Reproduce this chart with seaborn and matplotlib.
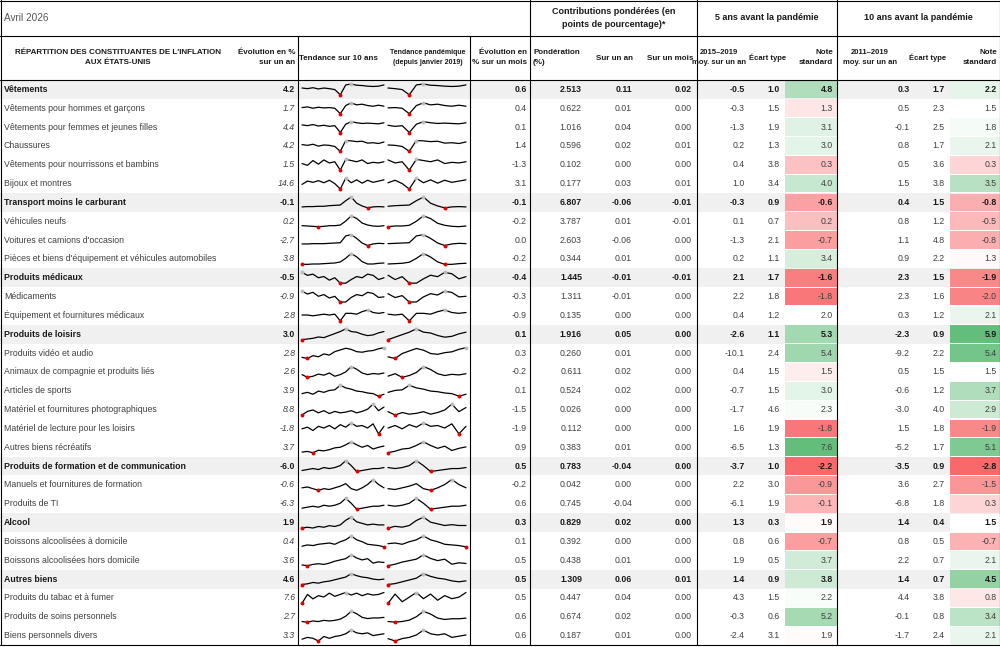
import matplotlib
matplotlib.use("Agg")
import matplotlib.pyplot as plt
import seaborn as sns
import numpy as np
import pandas as pd
from matplotlib.colors import LinearSegmentedColormap, TwoSlopeNorm

sns.set_theme(style="white")
plt.rcParams['font.family'] = ['Liberation Sans', 'DejaVu Sans']

labels = ["Vêtements", "Vêtements pour hommes et garçons", "Vêtements pour femmes et jeunes filles",
 "Chaussures", "Vêtements pour nourrissons et bambins", "Bijoux et montres",
 "Transport moins le carburant", "Véhicules neufs", "Voitures et camions d'occasion",
 "Pièces et biens d'équipement et véhicules automobiles", "Produits médicaux", "Médicaments",
 "Équipement et fournitures médicaux", "Produits de loisirs", "Produits vidéo et audio",
 "Animaux de compagnie et produits liés", "Articles de sports", "Matériel et fournitures photographiques",
 "Matériel de lecture pour les loisirs", "Autres biens récréatifs",
 "Produits de formation et de communication", "Manuels et fournitures de formation", "Produits de TI",
 "Alcool", "Boissons alcoolisées à domicile", "Boissons alcoolisées hors domicile",
 "Autres biens", "Produits du tabac et à fumer", "Produits de soins personnels", "Biens personnels divers"]
bold = [0, 6, 10, 13, 20, 23, 26]
yoy = [4.2,1.7,4.4,4.2,1.5,14.6,-0.1,0.2,-2.7,3.8,-0.5,-0.9,2.8,3.0,2.8,2.6,3.9,8.8,-1.8,3.7,-6.0,-0.6,-6.3,1.9,0.4,3.6,4.6,7.6,2.7,3.3]
mom = [0.6,0.4,0.1,1.4,-1.3,3.1,-0.1,-0.2,0.0,-0.2,-0.4,-0.3,-0.9,0.1,0.3,-0.2,0.1,-1.5,-1.9,0.9,0.5,-0.2,0.6,0.3,0.1,0.5,0.5,0.5,0.6,0.6]
weight = [2.513,0.622,1.016,0.596,0.102,0.177,6.807,3.787,2.603,0.344,1.445,1.311,0.135,1.916,0.260,0.611,0.524,0.026,0.112,0.383,0.783,0.042,0.745,0.829,0.392,0.438,1.309,0.447,0.674,0.187]
c_yoy = [0.11,0.01,0.04,0.02,0.00,0.03,-0.06,0.01,-0.06,0.01,-0.01,-0.01,0.00,0.05,0.01,0.02,0.02,0.00,0.00,0.01,-0.04,0.00,-0.04,0.02,0.00,0.01,0.06,0.04,0.02,0.01]
c_mom = [0.02,0.00,0.00,0.01,0.00,0.01,-0.01,-0.01,0.00,0.00,-0.01,0.00,0.00,0.00,0.00,0.00,0.00,0.00,0.00,0.00,0.00,0.00,0.00,0.00,0.00,0.00,0.01,0.00,0.00,0.00]
avg5 = [-0.5,-0.3,-1.3,0.2,0.4,1.0,-0.3,0.1,-1.3,0.2,2.1,2.2,0.4,-2.6,-10.1,0.4,-0.7,-1.7,1.6,-6.5,-3.7,2.2,-6.1,1.3,0.8,1.9,1.4,4.3,-0.3,-2.4]
sd5 = [1.0,1.5,1.9,1.3,3.8,3.4,0.9,0.7,2.1,1.1,1.7,1.8,1.2,1.1,2.4,1.5,1.5,4.6,1.9,1.3,1.0,3.0,1.9,0.3,0.6,0.5,0.9,1.5,0.6,3.1]
z5 = [4.8,1.3,3.1,3.0,0.3,4.0,-0.6,0.2,-0.7,3.4,-1.6,-1.8,2.0,5.3,5.4,1.5,3.0,2.3,-1.8,7.6,-2.2,-0.9,-0.1,1.9,-0.7,3.7,3.8,2.2,5.2,1.9]
avg10 = [0.3,0.5,-0.1,0.8,0.5,1.5,0.4,0.8,1.1,0.9,2.3,2.3,0.3,-2.3,-9.2,0.5,-0.6,-3.0,1.5,-5.2,-3.5,3.6,-6.8,1.4,0.8,2.2,1.4,4.4,-0.1,-1.7]
sd10 = [1.7,2.3,2.5,1.7,3.6,3.8,1.5,1.2,4.8,2.2,1.5,1.6,1.2,0.9,2.2,1.5,1.2,4.0,1.8,1.7,0.9,2.7,1.8,0.4,0.5,0.7,0.7,3.8,0.8,2.4]
z10 = [2.2,1.5,1.8,2.1,0.3,3.5,-0.8,-0.5,-0.8,1.3,-1.9,-2.0,2.1,5.9,5.4,1.5,3.7,2.9,-1.9,5.1,-2.8,-1.5,0.3,1.5,-0.7,2.1,4.5,0.8,3.4,2.1]

# rough 10-year trend shapes read from the sparklines (2016 -> 2026)
trend = [
 [0.2,0.0,0.3,-0.1,0.2,0.0,-0.3,-2.0,1.2,1.5,1.1,1.0,0.8,0.7,0.8,1.2],
 [0.2,0.4,0.0,0.3,0.1,0.2,0.0,-1.6,0.8,1.6,1.0,1.2,0.8,0.6,0.9,0.6],
 [0.4,0.2,0.5,0.1,0.3,0.0,0.2,-1.7,0.6,1.3,1.0,0.8,0.9,0.8,0.7,1.0],
 [0.2,0.0,0.3,-0.2,0.1,0.0,-0.3,-1.6,1.3,1.2,1.0,1.1,0.6,0.7,0.5,0.9],
 [0.3,0.0,0.8,0.2,0.9,0.4,0.6,-0.8,1.0,0.8,0.6,0.9,0.3,0.5,0.4,0.6],
 [-0.2,0.6,0.3,0.7,0.2,0.8,0.0,-1.3,1.3,0.2,0.9,0.1,0.8,0.3,0.6,0.9],
 [0.0,0.1,0.1,0.2,0.2,0.4,0.5,0.6,2.0,3.2,1.2,0.3,-0.3,0.0,0.1,0.0],
 [0.0,-0.1,-0.2,-0.3,-0.2,0.0,0.0,0.2,1.4,3.0,2.2,0.8,0.2,-0.1,-0.2,0.0],
 [0.0,0.0,0.1,0.1,0.1,0.2,0.3,0.4,2.6,3.0,1.8,0.3,-0.5,0.0,0.2,0.1],
 [-0.2,-0.2,-0.1,-0.1,0.0,0.1,0.2,0.5,1.6,3.0,2.0,0.6,-0.1,-0.1,0.1,0.2],
 [1.5,1.0,1.2,0.6,0.8,0.2,0.6,-0.3,-0.3,0.3,0.8,0.6,1.2,1.0,0.3,0.6],
 [1.5,1.0,1.3,0.6,0.9,0.3,0.6,-0.4,-0.4,0.4,0.9,0.7,1.3,1.1,0.4,0.5],
 [0.3,0.3,0.2,0.3,0.4,0.3,0.4,-0.4,0.5,0.5,0.4,0.7,0.9,0.6,0.5,0.6],
 [-0.6,-0.5,-0.4,-0.2,-0.3,0.0,0.3,0.6,1.0,0.6,0.5,0.2,0.0,0.1,0.4,0.6],
 [-0.6,-0.8,-0.3,-0.5,0.0,-0.2,0.4,0.7,1.0,0.8,0.4,0.3,0.5,0.6,0.9,1.1],
 [0.3,-0.2,0.0,0.4,0.2,0.6,0.0,0.3,0.8,1.8,1.3,0.6,0.3,0.5,0.4,0.6],
 [0.2,0.4,0.1,0.6,0.4,0.7,0.8,1.5,1.1,0.9,0.6,0.5,0.3,0.2,-0.2,0.1],
 [-0.3,0.2,0.4,0.0,0.3,-0.1,0.2,0.0,0.1,0.3,0.0,0.2,0.5,1.2,0.3,0.8],
 [0.2,0.4,0.0,0.5,0.3,0.6,0.2,0.7,0.4,0.9,0.5,0.6,0.3,0.8,-0.4,0.5],
 [-0.2,-0.1,-0.3,0.1,0.0,0.2,0.5,0.6,1.0,1.5,1.0,0.6,0.9,0.3,0.6,0.8],
 [0.3,0.4,0.5,0.4,0.6,0.5,0.6,0.8,1.3,0.8,0.2,0.3,0.4,0.5,0.5,0.6],
 [0.4,0.5,0.3,0.1,0.3,0.2,0.4,0.6,0.9,0.3,0.1,0.4,0.8,1.4,0.8,0.4],
 [0.3,0.4,0.5,0.4,0.6,0.5,0.6,0.8,1.3,0.8,0.2,0.3,0.4,0.5,0.5,0.6],
 [0.2,0.3,0.2,0.4,0.3,0.5,0.4,0.6,1.2,1.6,1.0,0.8,0.6,0.7,0.6,0.6],
 [0.2,0.4,0.3,0.5,0.6,0.7,0.5,0.9,1.2,1.8,1.2,0.9,0.5,0.4,0.3,0.1],
 [0.2,0.1,0.3,0.4,0.3,0.5,0.8,1.0,1.2,1.8,1.3,1.0,1.2,0.5,0.7,0.6],
 [0.2,0.3,0.5,0.4,0.6,0.7,0.9,1.1,1.3,1.8,1.5,1.3,1.2,1.0,0.9,1.0],
 [0.0,1.4,0.7,1.2,1.0,1.6,1.1,1.4,1.7,1.3,1.6,1.2,1.5,1.3,1.4,1.7],
 [0.1,0.0,0.2,0.1,0.3,0.2,0.3,0.5,1.0,1.8,1.4,0.8,0.6,0.7,0.7,0.8],
 [0.2,0.4,0.3,0.0,0.5,0.3,0.5,0.6,0.8,1.2,0.9,0.8,0.9,0.6,0.7,0.8],
]

W, H = 1000, 647
fig = plt.figure(figsize=(10, 6.47), dpi=100)
ax = fig.add_axes([0, 0, 1, 1])

top = 80.0
rh = (645 - top) / len(labels)
fs = 6.3
dark = "#1a1a1a"

for i in bold:
    ax.add_patch(plt.Rectangle((0, top + i*rh), W, rh, color="#f0f0f0", zorder=0, lw=0))

cmap = LinearSegmentedColormap.from_list("rg", ["#f8696b", "#ffffff", "#63be7b"])
for vals, x0, x1, ctr in [(z5, 785, 837, 2.0), (z10, 950, 1000, 1.5)]:
    norm = TwoSlopeNorm(vcenter=ctr, vmin=min(vals), vmax=max(vals))
    for i, v in enumerate(vals):
        ax.add_patch(plt.Rectangle((x0, top + i*rh + 0.5), x1 - x0, rh - 1,
                                   color=cmap(norm(v)), lw=0, zorder=1))

rows = []
for c, (x0, x1, start) in enumerate([(302, 384, 0), (388, 466, 4)]):
    for i, t in enumerate(trend):
        seg = np.array(t[start:], dtype=float)
        xs = np.linspace(x0, x1, len(seg))
        lo, hi = seg.min(), seg.max()
        ys = top + i*rh + rh - 4 - (seg - lo) / (hi - lo + 1e-9) * (rh - 8)
        for xx, yy in zip(xs, ys):
            rows.append(dict(x=xx, y=yy, unit=f"{c}-{i}"))
        ax.scatter([xs[seg.argmin()]], [ys[seg.argmin()]], s=8, color="#e00000", zorder=4, lw=0)
        ax.scatter([xs[seg.argmax()]], [ys[seg.argmax()]], s=8, color="#bbbbbb", zorder=4, lw=0)
df = pd.DataFrame(rows)
sns.lineplot(data=df, x="x", y="y", units="unit", estimator=None, color="black",
             lw=0.9, ax=ax, legend=False, sort=False)
ax.set_xlim(0, W); ax.set_ylim(H, 0); ax.axis('off')

def f(v, d=1):
    return f"{v:.{d}f}"

for i in range(len(labels)):
    yc = top + i*rh + rh/2
    b = i in bold
    w = "bold" if b else "normal"
    col = dark if b else "#404040"
    ax.text(4, yc, labels[i], fontsize=fs, va="center", ha="left", weight=w, color=col)
    cells = [(295, f(yoy[i])), (527, f(mom[i])), (582, f(weight[i], 3)), (632, f(c_yoy[i], 2)),
             (692, f(c_mom[i], 2)), (745, f(avg5[i])), (780, f(sd5[i])), (833, f(z5[i])),
             (910, f(avg10[i])), (945, f(sd10[i])), (997, f(z10[i]))]
    for k, (x, s) in enumerate(cells):
        ax.text(x, yc, s, fontsize=fs, va="center", ha="right", weight=w,
                color=col, style="italic" if (k == 0 and not b) else "normal")

hf = 5.8
ax.text(4, 18, "Avril 2026", fontsize=7.2, va="center", color="#555555")
hb = dict(fontsize=hf, weight="bold", color=dark, va="center")
ax.text(614, 18, "Contributions pondérées (en\npoints de pourcentage)*", ha="center", linespacing=1.6,
        fontsize=6.5, weight="bold", color=dark, va="center")
ax.text(767, 18, "5 ans avant la pandémie", ha="center", fontsize=6.5, weight="bold", color=dark, va="center")
ax.text(918, 18, "10 ans avant la pandémie", ha="center", fontsize=6.5, weight="bold", color=dark, va="center")
ax.text(118, 58, "RÉPARTITION DES CONSTITUANTES DE L'INFLATION\nAUX ÉTATS-UNIS", ha="center", linespacing=1.6, **hb)
ax.text(295, 58, "Évolution en %\nsur un an", ha="right", linespacing=1.6, **hb)
ax.text(338, 58, "Tendance sur 10 ans", ha="center", **hb)
ax.text(428, 58, "Tendance pandémique\n(depuis janvier 2019)", ha="center", linespacing=1.6,
        fontsize=5.0, weight="bold", color=dark, va="center")
ax.text(527, 58, "Évolution en\n% sur un mois", ha="right", linespacing=1.6, **hb)
ax.text(533, 58, "Pondération\n(%)", ha="left", linespacing=1.6, **hb)
ax.text(615, 58, "Sur un an", ha="center", **hb)
ax.text(670, 58, "Sur un mois", ha="center", **hb)
ax.text(719, 58, "2015–2019\nmoy. sur un an", ha="center", linespacing=1.6, fontsize=5.5,
        weight="bold", color=dark, va="center")
ax.text(768, 58, "Écart type", ha="center", fontsize=5.5, weight="bold", color=dark, va="center")
ax.text(833, 58, "Note\nstandard", ha="right", linespacing=1.6, **hb)
ax.text(870, 58, "2011–2019\nmoy. sur un an", ha="center", linespacing=1.6, fontsize=5.5,
        weight="bold", color=dark, va="center")
ax.text(928, 58, "Écart type", ha="center", fontsize=5.5, weight="bold", color=dark, va="center")
ax.text(997, 58, "Note\nstandard", ha="right", linespacing=1.6, **hb)

lk = dict(color="black", lw=0.8, zorder=5)
ax.plot([0, W], [0.5, 0.5], **lk); ax.plot([0, W], [645, 645], **lk)
ax.plot([0, W], [36, 36], **lk); ax.plot([0, W], [top, top], **lk)
ax.plot([0.5, 0.5], [0, 645], **lk); ax.plot([999.5, 999.5], [0, 645], **lk)
for x in [530, 697, 837]:
    ax.plot([x, x], [0, 645], **lk)
for x in [298, 470]:
    ax.plot([x, x], [36, 645], **lk)

fig.savefig("out.png", dpi=100)
